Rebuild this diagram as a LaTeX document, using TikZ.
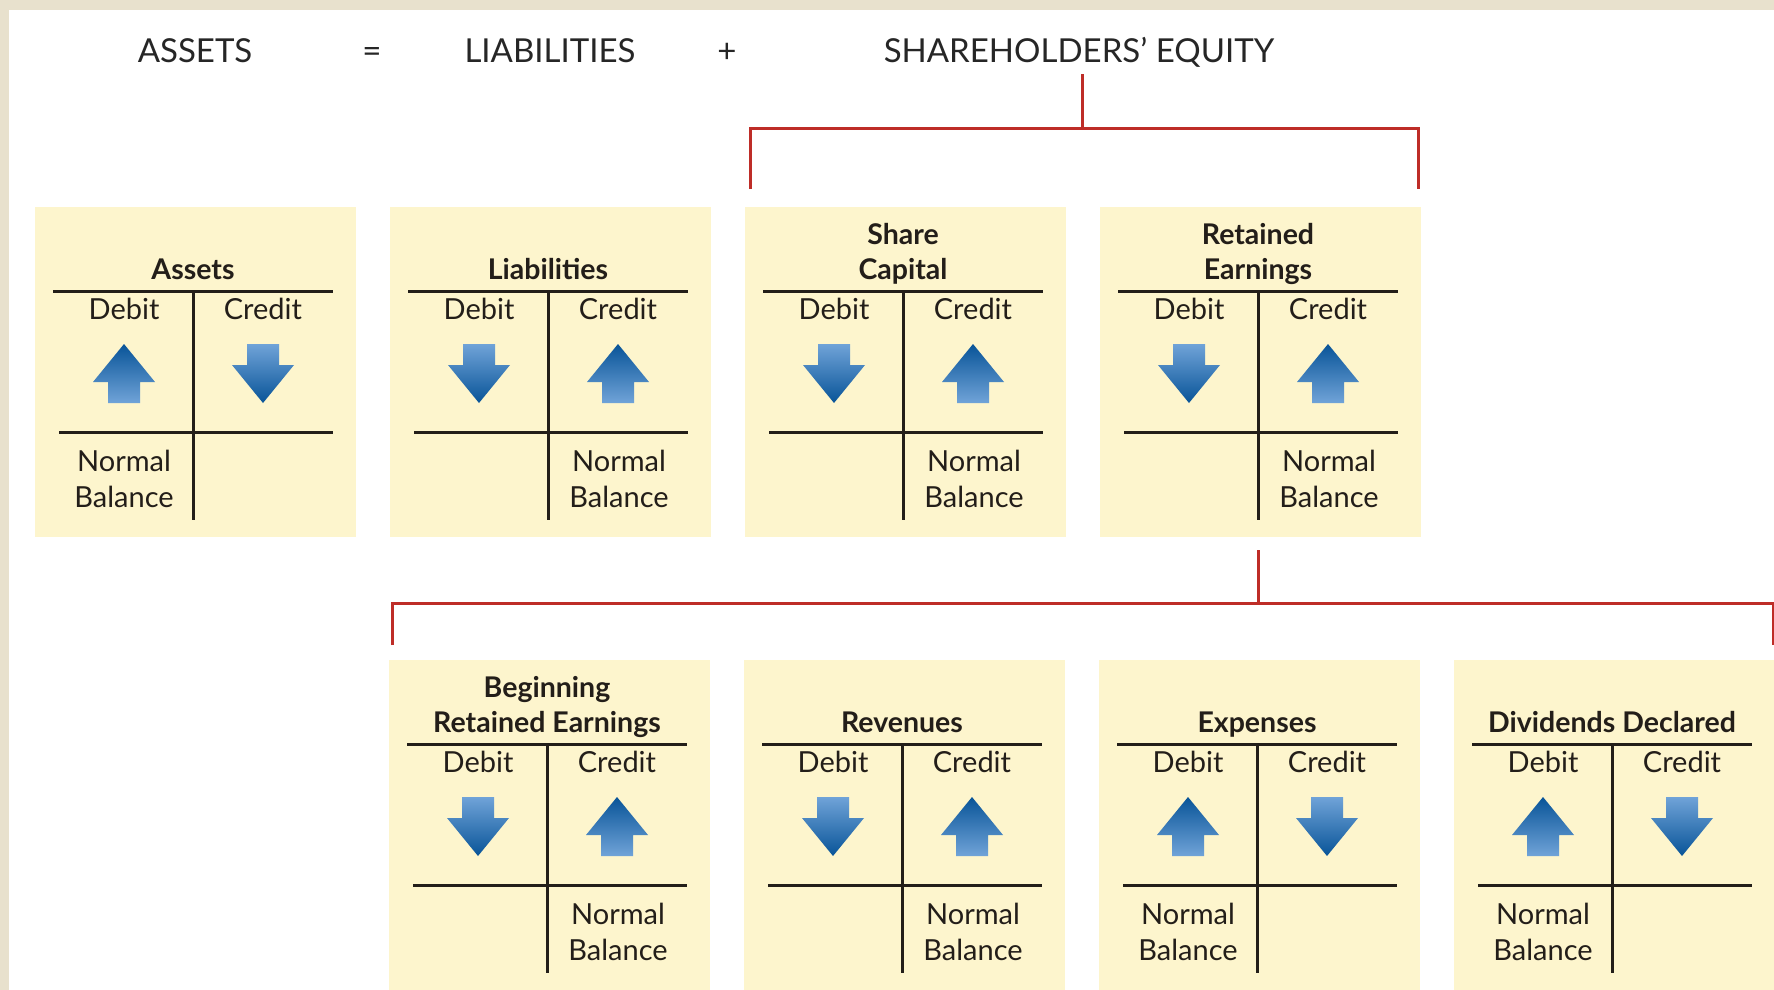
\documentclass[tikz,border=0pt]{standalone}
\usepackage{fontspec}
\setmainfont{Lato}
\usetikzlibrary{calc}
\definecolor{beige}{RGB}{232,225,205}
\definecolor{boxfill}{RGB}{253,245,205}
\definecolor{redline}{RGB}{190,45,40}
\definecolor{arrowdark}{RGB}{8,84,152}
\definecolor{arrowlight}{RGB}{112,163,216}
\definecolor{tline}{RGB}{35,30,25}
\tikzset{
  acctbox/.style={fill=boxfill, draw=none, minimum width=321pt, minimum height=330pt, inner sep=0pt, outer sep=0pt, anchor=north west},
  tl/.style={draw=tline, line width=3pt},
  lbl/.style={font=\fontsize{29}{33}\selectfont, inner sep=0pt, anchor=base, text=tline},
  ttl/.style={font=\bfseries\fontsize{28.5}{33}\selectfont, inner sep=0pt, anchor=base, text=tline},
  hdr/.style={font=\fontsize{33}{37}\selectfont, inner sep=0pt, anchor=base, text=black!85},
  bracket/.style={draw=redline, line width=3pt, line join=miter},
}
\newcommand\UpArr[2]{%
  \shade[top color=arrowdark, bottom color=arrowlight]
    (#1,#2) -- (#1+31,#2+38) -- (#1+16,#2+38) -- (#1+16,#2+59) -- (#1-16,#2+59) -- (#1-16,#2+38) -- (#1-31,#2+38) -- cycle;}
\newcommand\DnArr[2]{%
  \shade[top color=arrowlight, bottom color=arrowdark]
    (#1-16,#2) -- (#1+16,#2) -- (#1+16,#2+21) -- (#1+31,#2+21) -- (#1,#2+59) -- (#1-31,#2+21) -- (#1-16,#2+21) -- cycle;}
\newcommand\TAcct[8]{%
  \node[acctbox] (#1) at (#2,#3) {};
  \if\relax\detokenize{#4}\relax\else\node[ttl] (#1-t1) at (#2+158,#3+37) {#4};\fi
  \node[ttl] (#1-t2) at (#2+158,#3+72) {#5};
  \draw[tl] (#2+18,#3+84) -- (#2+298,#3+84);
  \draw[tl] (#2+158,#3+84) -- (#2+158,#3+313);
  \draw[tl] (#2+24,#3+225) -- (#2+298,#3+225);
  \node[lbl] (#1-d) at (#2+89,#3+112) {Debit};
  \node[lbl] (#1-c) at (#2+228,#3+112) {Credit};
  #6{#2+89}{#3+137}
  #7{#2+228}{#3+137}
  \node[lbl] (#1-n1) at (#2+#8,#3+264) {Normal};
  \node[lbl] (#1-n2) at (#2+#8,#3+300) {Balance};
}
\begin{document}
\begin{tikzpicture}[x=1pt,y=-1pt]
\useasboundingbox (0,0) rectangle (1774,990);
\fill[beige] (0,0) rectangle (1774,990);
\fill[white] (9,10) rectangle (1774,990);
% header
\node[hdr] (hA) at (195,63) {ASSETS};
\node[hdr] (hEq) at (372,63) {=};
\node[hdr] (hL) at (550,63) {LIABILITIES};
\node[hdr] (hP) at (727,63) {+};
\node[hdr] (eq) at (1079,63) {SHAREHOLDERS’ EQUITY};
% top row
\TAcct{as}{35}{207}{}{Assets}{\UpArr}{\DnArr}{89}
\TAcct{li}{390}{207}{}{Liabilities}{\DnArr}{\UpArr}{229}
\TAcct{sc}{745}{207}{Share}{Capital}{\DnArr}{\UpArr}{229}
\TAcct{re}{1100}{207}{Retained}{Earnings}{\DnArr}{\UpArr}{229}
% bottom row
\TAcct{bre}{389}{660}{Beginning}{Retained Earnings}{\DnArr}{\UpArr}{229}
\TAcct{rev}{744}{660}{}{Revenues}{\DnArr}{\UpArr}{229}
\TAcct{exp}{1099}{660}{}{Expenses}{\UpArr}{\DnArr}{89}
\TAcct{div}{1454}{660}{}{Dividends Declared}{\UpArr}{\DnArr}{89}
% top bracket
\coordinate (hbar1) at ($(eq.base)+(3,65)$);
\coordinate (tL) at ($(sc.north west)+(5,-18)$);
\coordinate (tR) at ($(re.north east)+(-3,-18)$);
\draw[bracket] ($(eq.base)+(3,11)$) -- (hbar1);
\draw[bracket] (tL) -- (tL |- hbar1) -- (tR |- hbar1) -- (tR);
% bottom bracket
\coordinate (hbar2) at ($(re.south)+(-2.5,66)$);
\coordinate (bL) at ($(bre.north west)+(3,-15)$);
\coordinate (bR) at ($(div.north east)+(-2,-15)$);
\draw[bracket] ($(re.south)+(-2.5,13)$) -- (hbar2);
\draw[bracket] (bL) -- (bL |- hbar2) -- (bR |- hbar2) -- (bR);
\end{tikzpicture}
\end{document}
